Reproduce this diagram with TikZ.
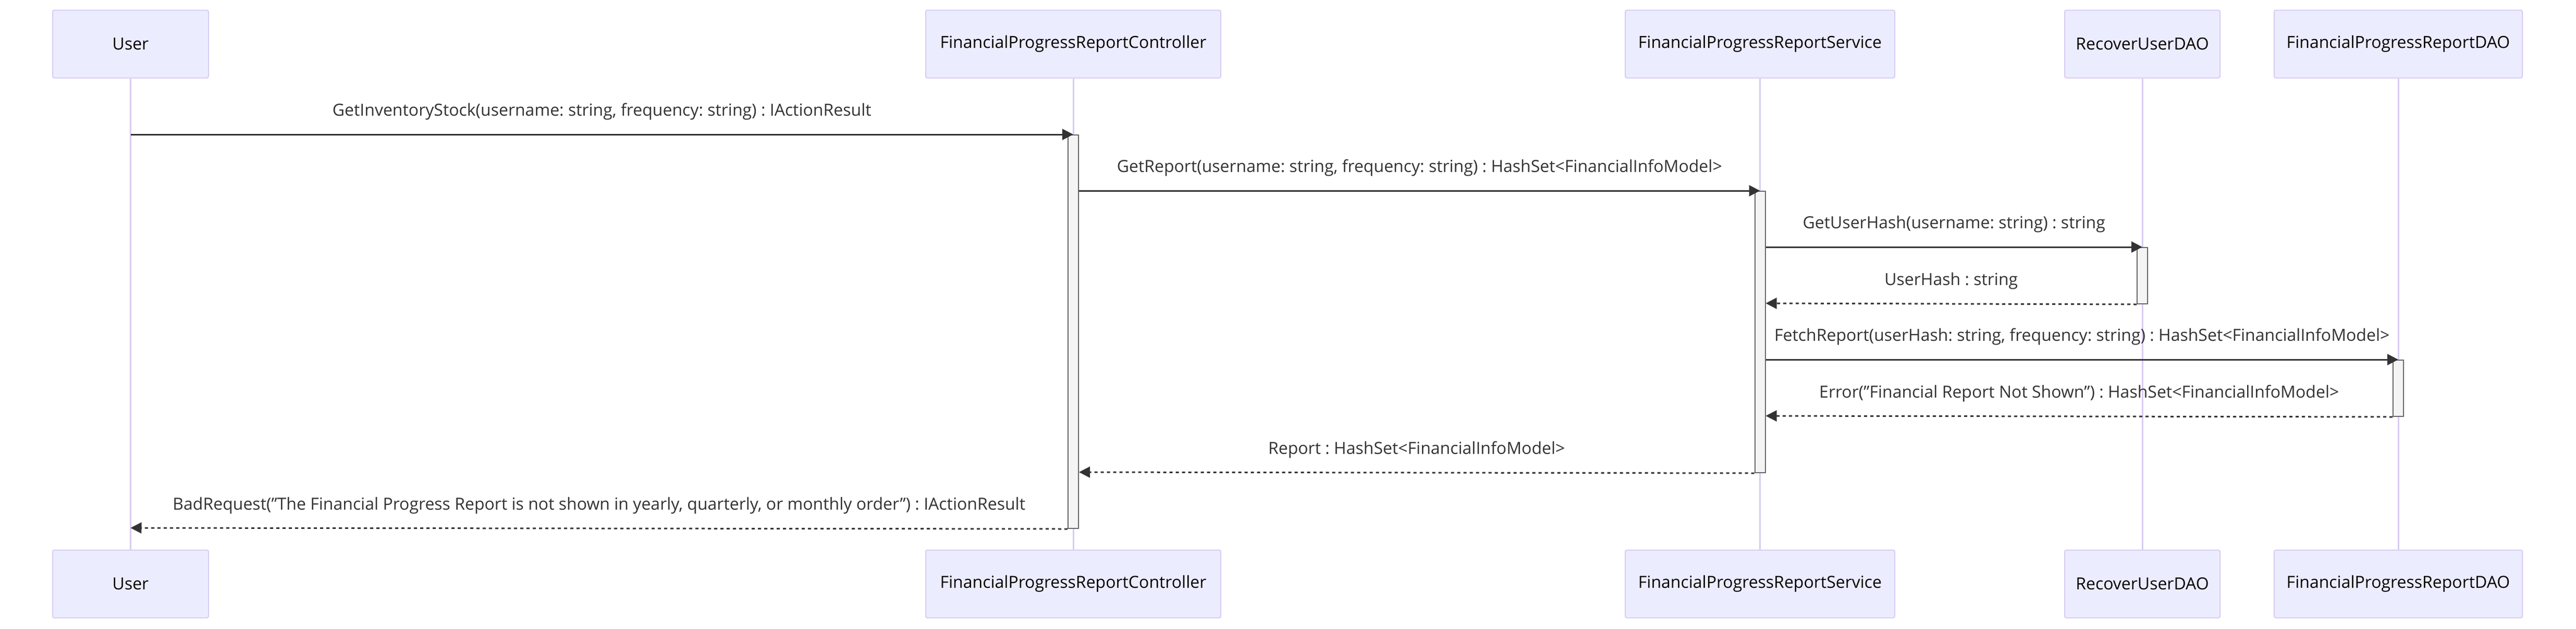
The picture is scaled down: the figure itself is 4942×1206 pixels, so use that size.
\documentclass[tikz,border=0pt]{standalone}
\usepackage{fontspec}
\setmainfont{Open Sans}
\frenchspacing
\usetikzlibrary{positioning}
\usetikzlibrary{arrows.meta}
\definecolor{actorfill}{HTML}{ECECFF}
\definecolor{actorline}{HTML}{D8CCF2}
\definecolor{signal}{HTML}{333333}
\definecolor{barfill}{HTML}{F4F4F4}
\definecolor{barline}{HTML}{666666}
\tikzset{
  actor/.style={rectangle, draw=actorline, fill=actorfill, line width=1pt, rounded corners=1.5pt, minimum height=65pt, inner sep=0pt, text=black, font=\fontsize{16pt}{19pt}\selectfont},
  lifeline/.style={draw=actorline, line width=1.5pt},
  actbar/.style={rectangle, draw=barline, fill=barfill, line width=1pt, minimum width=10pt, inner sep=0pt, anchor=north},
  call/.style={draw=signal, line width=1.5pt, -{Triangle[length=10.5pt,width=10.5pt]}},
  ret/.style={call, dash pattern=on 3pt off 3pt},
  msg/.style={anchor=base, yshift=18pt, inner sep=0pt, text=signal, font=\fontsize{16pt}{19pt}\selectfont},
}
\newcommand{\qq}{\symbol{34}}
\begin{document}
\begin{tikzpicture}[x=0.5pt,y=-0.5pt]
\useasboundingbox (0,0) rectangle (4942,1206);
% participants
\node[actor, minimum width=149.5pt] (User) at (250.5,84.5) {User};
\node[actor, minimum width=283pt] (Ctrl) at (2059,84.5) {FinancialProgressReportController};
\node[actor, minimum width=258.5pt] (Svc) at (3376.5,84.5) {FinancialProgressReportService};
\node[actor, minimum width=149pt] (Rec) at (4110,84.5) {RecoverUserDAO};
\node[actor, minimum width=238pt] (Dao) at (4601,84.5) {FinancialProgressReportDAO};
\node[actor, minimum width=149.5pt, below=452pt of User] (UserB) {User};
\node[actor, minimum width=283pt, below=452pt of Ctrl] (CtrlB) {FinancialProgressReportController};
\node[actor, minimum width=258.5pt, below=452pt of Svc] (SvcB) {FinancialProgressReportService};
\node[actor, minimum width=149pt, below=452pt of Rec] (RecB) {RecoverUserDAO};
\node[actor, minimum width=238pt, below=452pt of Dao] (DaoB) {FinancialProgressReportDAO};
\foreach \p in {User,Ctrl,Svc,Rec,Dao}
  \draw[lifeline] (\p) -- (\p B);
% message rows
\foreach \i/\y in {1/258,2/366,3/474,4/582,5/690,6/798,7/906,8/1013}
  \coordinate (r\i) at (0,\y);
% activations
\node[actbar, minimum height=377.5pt] (aC) at (Ctrl |- r1) {};
\node[actbar, minimum height=270pt] (aS) at (Svc |- r2) {};
\node[actbar, minimum height=54pt] (aR) at (Rec |- r3) {};
\node[actbar, minimum height=54pt] (aD) at (Dao |- r5) {};
% messages
\draw[call] (User |- r1) -- node[msg] {GetInventoryStock(username: string, frequency: string) : IActionResult} (aC.north);
\draw[call] (aC.east |- r2) -- node[msg] {GetReport(username: string, frequency: string) : HashSet<FinancialInfoModel>} (aS.north);
\draw[call] (aS.east |- r3) -- node[msg] {GetUserHash(username: string) : string} (aR.north);
\draw[ret] (aR.south west) -- node[msg] {UserHash : string} (aS.east |- r4);
\draw[call] (aS.east |- r5) -- node[msg] {FetchReport(userHash: string, frequency: string) : HashSet<FinancialInfoModel>} (aD.north);
\draw[ret] (aD.south west) -- node[msg] {Error(\qq Financial Report Not Shown\qq) : HashSet<FinancialInfoModel>} (aS.east |- r6);
\draw[ret] (aS.south west) -- node[msg] {Report : HashSet<FinancialInfoModel>} (aC.east |- r7);
\draw[ret] (aC.south west) -- node[msg] {BadRequest(\qq The Financial Progress Report is not shown in yearly, quarterly, or monthly order\qq) : IActionResult} (User |- r8);
\end{tikzpicture}
\end{document}
